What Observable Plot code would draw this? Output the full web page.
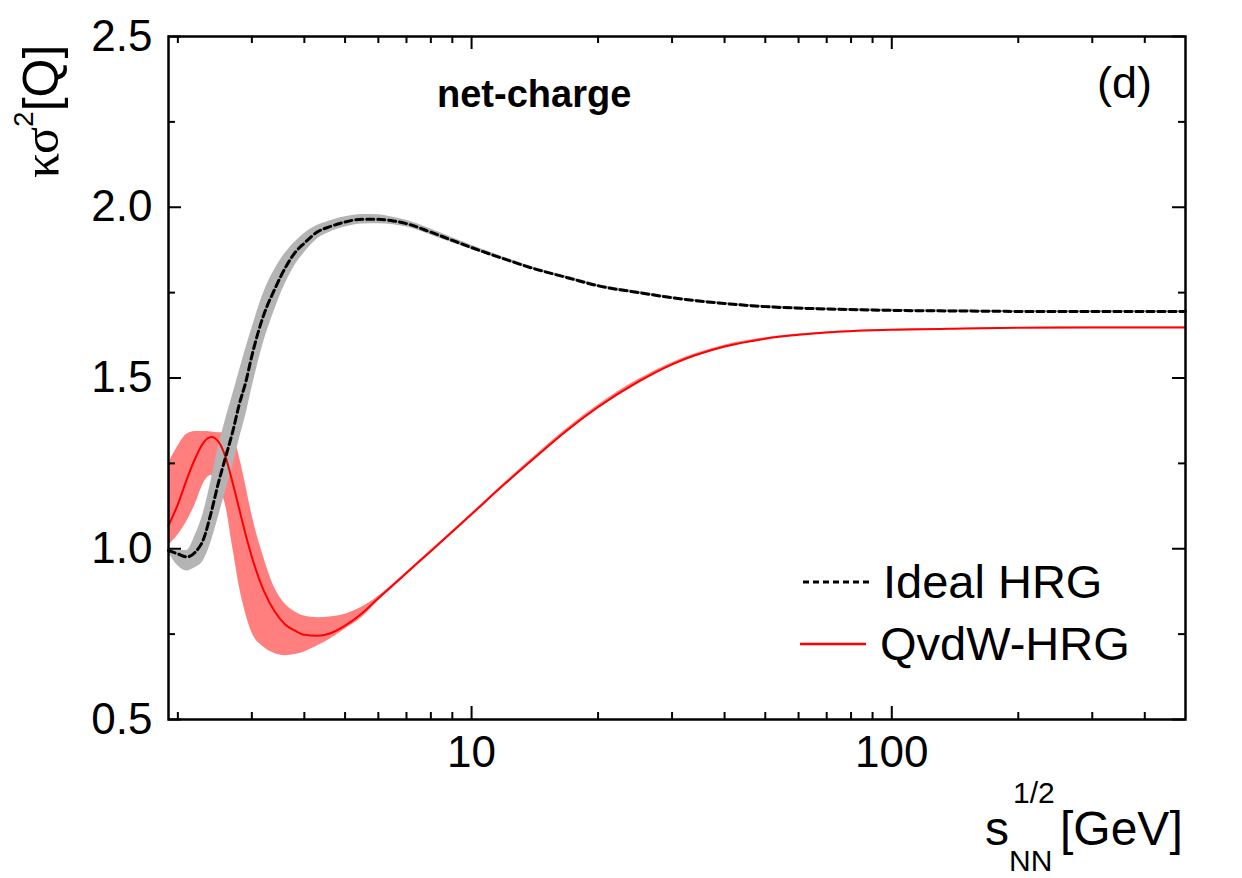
<!DOCTYPE html>
<html>
<head>
<meta charset="utf-8">
<script src="https://cdn.jsdelivr.net/npm/d3@7"></script>
<script src="https://cdn.jsdelivr.net/npm/@observablehq/plot@0.6"></script>
<style>
  html, body { margin: 0; padding: 0; background: #fff; }
  #chart svg { display: block; }
</style>
</head>
<body>
<div id="chart"></div>
<script>
// Collision energy sqrt(s_NN) in GeV
const energies = [1.9, 2.0, 2.1, 2.2, 2.3, 2.4, 2.5, 2.6, 2.7, 2.8, 2.9, 3.0, 3.2, 3.4, 3.6, 3.8, 4.0, 4.3, 4.6, 5.0,
  5.5, 6.0, 6.5, 7, 8, 9, 10, 12, 14, 17, 20, 25, 30, 40, 50, 70, 100, 150, 200, 300, 500];

// Ideal HRG: central curve and band edges
const idealMean = [0.995, 0.985, 0.976, 0.99, 1.027, 1.106, 1.195, 1.27, 1.342, 1.423, 1.487, 1.565, 1.684, 1.76, 1.822, 1.867, 1.895, 1.928, 1.943, 1.957,
  1.965, 1.965, 1.96, 1.952, 1.927, 1.903, 1.882, 1.848, 1.821, 1.793, 1.77, 1.75, 1.735, 1.718, 1.709, 1.702, 1.698, 1.696, 1.695, 1.695, 1.695];
const idealLo = [0.99, 0.95, 0.935, 0.945, 0.965, 1.02, 1.095, 1.17, 1.24, 1.32, 1.39, 1.47, 1.605, 1.70, 1.775, 1.83, 1.867, 1.908, 1.927, 1.942,
  1.951, 1.952, 1.949, 1.942, 1.919, 1.896, 1.876, 1.843, 1.817, 1.789, 1.766, 1.746, 1.732, 1.715, 1.706, 1.699, 1.695, 1.693, 1.692, 1.692, 1.692];
const idealHi = [1.0, 0.995, 0.995, 1.04, 1.105, 1.20, 1.30, 1.38, 1.45, 1.52, 1.585, 1.645, 1.75, 1.818, 1.865, 1.898, 1.923, 1.947, 1.96, 1.972,
  1.979, 1.978, 1.971, 1.962, 1.936, 1.911, 1.889, 1.853, 1.825, 1.797, 1.774, 1.754, 1.738, 1.721, 1.712, 1.705, 1.701, 1.699, 1.698, 1.698, 1.698];

// QvdW-HRG: central curve and band edges
const qvdwMean = [1.068, 1.13, 1.203, 1.265, 1.31, 1.327, 1.313, 1.267, 1.193, 1.116, 1.041, 0.976, 0.878, 0.816, 0.778, 0.76, 0.748, 0.745, 0.752, 0.775,
  0.812, 0.855, 0.893, 0.929, 0.993, 1.05, 1.101, 1.19, 1.262, 1.35, 1.415, 1.49, 1.54, 1.592, 1.615, 1.633, 1.641, 1.645, 1.647, 1.648, 1.648];
const qvdwLo = [1.01, 1.04, 1.08, 1.13, 1.19, 1.215, 1.18, 1.125, 1.005, 0.89, 0.81, 0.755, 0.712, 0.693, 0.687, 0.69, 0.698, 0.716, 0.735, 0.765,
  0.80, 0.848, 0.888, 0.925, 0.99, 1.047, 1.098, 1.187, 1.257, 1.344, 1.409, 1.484, 1.535, 1.588, 1.612, 1.631, 1.639, 1.644, 1.646, 1.647, 1.647];
const qvdwHi = [1.25, 1.30, 1.335, 1.343, 1.343, 1.342, 1.34, 1.34, 1.33, 1.27, 1.186, 1.10, 0.975, 0.885, 0.838, 0.815, 0.803, 0.798, 0.80, 0.808,
  0.83, 0.861, 0.897, 0.932, 0.996, 1.053, 1.104, 1.194, 1.267, 1.356, 1.421, 1.496, 1.545, 1.596, 1.618, 1.635, 1.643, 1.646, 1.648, 1.649, 1.649];

// Axis ticks
const xMajor = [10, 100];
const xMinor = [2, 3, 4, 5, 6, 7, 8, 9, 20, 30, 40, 50, 60, 70, 80, 90, 200, 300, 400];
const yMajor = [0.5, 1.0, 1.5, 2.0, 2.5];
const yMinor = [0.75, 1.25, 1.75, 2.25];

const ideal = energies.map((e, i) => ({e, mean: idealMean[i], lo: idealLo[i], hi: idealHi[i]}));
const qvdw = energies.map((e, i) => ({e, mean: qvdwMean[i], lo: qvdwLo[i], hi: qvdwHi[i]}));

const W = 1242, H = 878;
const mL = 168, mR = 57, mT = 36, mB = 159;
const innerW = W - mL - mR, innerH = H - mT - mB;
const majorLen = 13, minorLen = 7;
const font = "'Liberation Sans', Arial, Helvetica, sans-serif";
const tickStyle = {stroke: "black", strokeWidth: 2};

const chart = Plot.plot({
  width: W,
  height: H,
  marginLeft: mL,
  marginRight: mR,
  marginTop: mT,
  marginBottom: mB,
  style: {fontFamily: font, background: "white", color: "black", overflow: "visible"},
  x: {type: "log", domain: [1.9, 500]},
  y: {domain: [0.5, 2.5]},
  marks: [
    Plot.areaY(qvdw, {x: "e", y1: "lo", y2: "hi", fill: "#ff7f7f", curve: "monotone-x"}),
    Plot.areaY(ideal, {x: "e", y1: "lo", y2: "hi", fill: "#b4b4b4", curve: "monotone-x"}),
    Plot.line(qvdw, {x: "e", y: "mean", stroke: "#ff0000", strokeWidth: 2, curve: "monotone-x"}),
    Plot.line(ideal, {x: "e", y: "mean", stroke: "black", strokeWidth: 3, strokeDasharray: "7,4", curve: "monotone-x"}),

    // inward ticks on all four sides
    Plot.ruleX(xMajor, {...tickStyle, insetTop: innerH - majorLen}),
    Plot.ruleX(xMinor, {...tickStyle, insetTop: innerH - minorLen}),
    Plot.ruleX(xMajor, {...tickStyle, insetBottom: innerH - majorLen}),
    Plot.ruleX(xMinor, {...tickStyle, insetBottom: innerH - minorLen}),
    Plot.ruleY(yMajor, {...tickStyle, insetRight: innerW - majorLen}),
    Plot.ruleY(yMinor, {...tickStyle, insetRight: innerW - minorLen}),
    Plot.ruleY(yMajor, {...tickStyle, insetLeft: innerW - majorLen}),
    Plot.ruleY(yMinor, {...tickStyle, insetLeft: innerW - minorLen}),

    Plot.axisX({ticks: xMajor, tickSize: 0, tickPadding: 16, fontSize: 44, tickFormat: d => String(d), label: null}),
    Plot.axisY({ticks: yMajor, tickSize: 0, tickPadding: 16, fontSize: 44, tickFormat: d3.format(".1f"), label: null}),
    Plot.frame({stroke: "black", strokeWidth: 2.5})
  ]
});

const svg = d3.select(chart);

// y-axis title: κσ²[Q]
const yl = svg.append("text")
  .attr("transform", "translate(58,178) rotate(-90)")
  .attr("text-anchor", "start")
  .attr("font-family", font)
  .attr("font-size", 50)
  .attr("fill", "black");
yl.append("tspan").attr("font-family", "'Liberation Serif', 'DejaVu Serif', serif").text("κσ");
yl.append("tspan").attr("font-size", 28).attr("dy", -25).text("2");
yl.append("tspan").attr("dy", 25).text("[Q]");

// x-axis title: s_NN^1/2 [GeV]
const xt = svg.append("g").attr("font-family", font).attr("fill", "black").attr("text-anchor", "start");
xt.append("text").attr("x", 985).attr("y", 845).attr("font-size", 48).text("s");
xt.append("text").attr("x", 1009).attr("y", 871).attr("font-size", 30).text("NN");
xt.append("text").attr("x", 1013).attr("y", 803).attr("font-size", 30).text("1/2");
xt.append("text").attr("x", 1060).attr("y", 845).attr("font-size", 48).text("[GeV]");

// panel annotations
svg.append("text").attr("x", 437).attr("y", 107).attr("text-anchor", "start").attr("font-family", font)
  .attr("font-weight", "bold").attr("font-size", 38).attr("fill", "black").text("net-charge");
svg.append("text").attr("x", 1152).attr("y", 98).attr("text-anchor", "end").attr("font-family", font)
  .attr("font-size", 45).attr("fill", "black").text("(d)");

// legend
const lg = svg.append("g").attr("font-family", font).attr("font-size", 47).attr("fill", "black")
  .attr("text-anchor", "start");
lg.append("line").attr("x1", 803).attr("x2", 870).attr("y1", 582).attr("y2", 582)
  .attr("stroke", "black").attr("stroke-width", 3).attr("stroke-dasharray", "6,4");
lg.append("text").attr("x", 883).attr("y", 598).text("Ideal HRG");
lg.append("line").attr("x1", 800).attr("x2", 866).attr("y1", 644).attr("y2", 644)
  .attr("stroke", "#ff0000").attr("stroke-width", 2.5);
lg.append("text").attr("x", 880).attr("y", 660).text("QvdW-HRG");

document.getElementById("chart").appendChild(chart);
</script>
</body>
</html>
